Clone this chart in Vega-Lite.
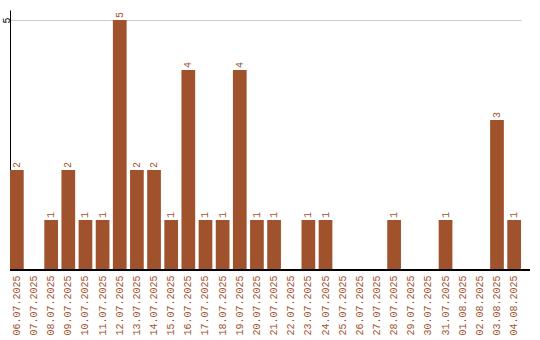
{
  "$schema": "https://vega.github.io/schema/vega-lite/v6.json",
  "width": 520,
  "height": 260,
  "autosize": {"type": "none"},
  "padding": {"left": 10, "top": 10, "right": 10, "bottom": 70},
  "background": "white",
  "config": {"view": {"stroke": null}, "font": "Liberation Mono"},
  "data": {"values": [
    {"date": "06.07.2025", "count": 2},
    {"date": "07.07.2025", "count": 0},
    {"date": "08.07.2025", "count": 1},
    {"date": "09.07.2025", "count": 2},
    {"date": "10.07.2025", "count": 1},
    {"date": "11.07.2025", "count": 1},
    {"date": "12.07.2025", "count": 5},
    {"date": "13.07.2025", "count": 2},
    {"date": "14.07.2025", "count": 2},
    {"date": "15.07.2025", "count": 1},
    {"date": "16.07.2025", "count": 4},
    {"date": "17.07.2025", "count": 1},
    {"date": "18.07.2025", "count": 1},
    {"date": "19.07.2025", "count": 4},
    {"date": "20.07.2025", "count": 1},
    {"date": "21.07.2025", "count": 1},
    {"date": "22.07.2025", "count": 0},
    {"date": "23.07.2025", "count": 1},
    {"date": "24.07.2025", "count": 1},
    {"date": "25.07.2025", "count": 0},
    {"date": "26.07.2025", "count": 0},
    {"date": "27.07.2025", "count": 0},
    {"date": "28.07.2025", "count": 1},
    {"date": "29.07.2025", "count": 0},
    {"date": "30.07.2025", "count": 0},
    {"date": "31.07.2025", "count": 1},
    {"date": "01.08.2025", "count": 0},
    {"date": "02.08.2025", "count": 0},
    {"date": "03.08.2025", "count": 3},
    {"date": "04.08.2025", "count": 1}
  ]},
  "layer": [
    {
      "mark": {"type": "bar", "color": "#A0522D"},
      "encoding": {
        "x": {
          "field": "date", "type": "ordinal", "sort": null,
          "scale": {"paddingInner": 0.2, "paddingOuter": 0, "range": [0, 511]},
          "axis": {"title": null, "labelAngle": -90, "labelColor": "#A0522D", "labelFont": "Liberation Mono", "labelFontSize": 10, "ticks": false, "domain": false, "labelPadding": 5, "grid": false}
        },
        "y": {
          "field": "count", "type": "quantitative",
          "scale": {"domain": [0, 5.2], "nice": false},
          "axis": {"title": null, "values": [5], "labelAngle": -90, "labelAlign": "center", "labelBaseline": "middle", "labelFont": "Liberation Mono", "labelFontSize": 10, "labelColor": "black", "ticks": false, "domainColor": "black", "domainWidth": 1, "gridColor": "#cccccc", "labelPadding": 4}
        }
      }
    },
    {
      "transform": [{"filter": "datum.count > 0"}],
      "mark": {"type": "text", "angle": -90, "align": "left", "baseline": "middle", "dx": 2, "color": "#A0522D", "font": "Liberation Mono", "fontSize": 10},
      "encoding": {
        "x": {"field": "date", "type": "ordinal", "sort": null, "bandPosition": 0.5},
        "y": {"field": "count", "type": "quantitative"},
        "text": {"field": "count", "type": "quantitative"}
      }
    },
    {
      "mark": {"type": "rule", "color": "black", "strokeWidth": 1.5},
      "encoding": {"y": {"datum": 0}}
    }
  ]
}
